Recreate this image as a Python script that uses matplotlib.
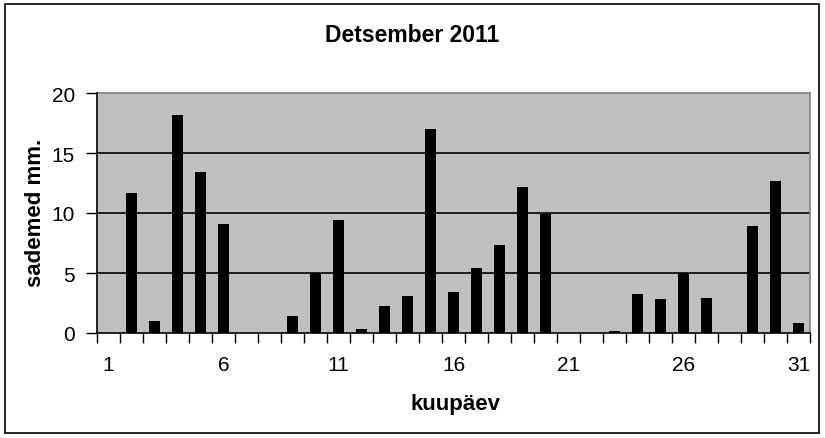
import matplotlib
matplotlib.use("Agg")
import matplotlib.pyplot as plt
from matplotlib.patches import Rectangle

plt.rcParams['font.family'] = ['Liberation Sans', 'DejaVu Sans']

days = list(range(1, 32))
values = [0, 11.65, 1.0, 18.2, 13.4, 9.05, 0, 0, 1.45, 5.0, 9.4, 0.35, 2.25, 3.1,
          17.0, 3.45, 5.45, 7.35, 12.15, 9.95, 0, 0, 0.17, 3.25, 2.8, 5.0, 2.95,
          0, 8.9, 12.65, 0.85]
xticks = [1, 6, 11, 16, 21, 26, 31]
yticks = [0, 5, 10, 15, 20]
title = "Detsember 2011"
xlabel = "kuupäev"
ylabel = "sademed mm."

W, H = 825, 439
fig = plt.figure(figsize=(W / 100, H / 100), dpi=100)
fig.patches.append(Rectangle((5 / W, 5 / H), 814 / W, 429 / H, transform=fig.transFigure,
                             fill=False, edgecolor='black', linewidth=1.2))

ax = fig.add_axes([97 / W, 1 - 334 / H, 713 / W, 240 / H])
ax.set_facecolor('#C0C0C0')
ax.bar(days, values, width=0.48, color='black', zorder=3)
ax.set_xlim(0.5, 31.5)
ax.set_ylim(0, 20)
ax.set_yticks(yticks)
ax.set_xticks(xticks)
ax.set_xticks([d + 0.5 for d in range(0, 32)], minor=True)
for y in yticks[1:-1]:
    ax.axhline(y, color='black', linewidth=1.2, zorder=2)

ax.tick_params(axis='x', which='major', length=0, pad=16, labelsize=15)
ax.tick_params(axis='x', which='minor', length=7, width=1, direction='out', color='black')
ax.tick_params(axis='y', which='major', length=8, width=1, direction='out', pad=8, labelsize=15)

for s in ['top', 'right']:
    ax.spines[s].set_color('#808080')
    ax.spines[s].set_linewidth(1.2)
for s in ['left', 'bottom']:
    ax.spines[s].set_color('black')
    ax.spines[s].set_linewidth(1.2)
    ax.spines[s].set_zorder(4)

fig.text(412 / W, 1 - 36 / H, title, ha='center', va='center', fontsize=16.5, fontweight='bold')
fig.text(455 / W, 1 - 405 / H, xlabel, ha='center', va='center', fontsize=16, fontweight='bold')
fig.text(36 / W, 1 - 213 / H, ylabel, ha='center', va='center', rotation=90, fontsize=16, fontweight='bold')

fig.savefig('out.png', dpi=100)
